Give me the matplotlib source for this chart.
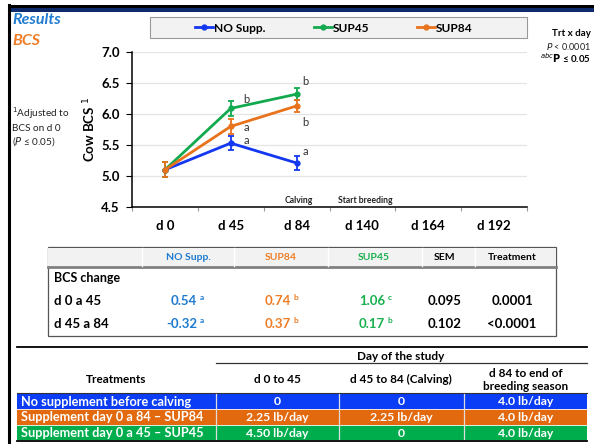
import matplotlib
matplotlib.use("Agg")
import matplotlib.pyplot as plt
from matplotlib.patches import Rectangle
from matplotlib.lines import Line2D

plt.rcParams['font.family'] = ['Lato', 'DejaVu Sans']

# ---------------- data ----------------
days = ["d 0", "d 45", "d 84", "d 140", "d 164", "d 192"]
no_supp = [5.10, 5.53, 5.21]
no_supp_err = [0.12, 0.11, 0.12]
sup45 = [5.10, 6.09, 6.32]
sup45_err = [0.12, 0.12, 0.10]
sup84 = [5.10, 5.80, 6.13]
sup84_err = [0.12, 0.12, 0.10]
letters_no = ["", "a", "a"]
letters_45 = ["", "b", "b"]
letters_84 = ["", "a", "b"]
yticks = [4.5, 5.0, 5.5, 6.0, 6.5, 7.0]

tbl1_cols = ["NO Supp.", "SUP84", "SUP45", "SEM", "Treatment"]
tbl1_rows = ["d 0 a 45", "d 45 a 84"]
chg_no = ["0.54", "-0.32"]
chg_no_l = ["a", "a"]
chg_84 = ["0.74", "0.37"]
chg_84_l = ["b", "b"]
chg_45 = ["1.06", "0.17"]
chg_45_l = ["c", "b"]
sem = ["0.095", "0.102"]
trt_p = ["0.0001", "<0.0001"]

tbl2_cols = ["d 0 to 45", "d 45 to 84 (Calving)", "d 84 to end of\nbreeding season"]
tbl2_rows = ["No supplement before calving", "Supplement day 0 a 84 \u2013 SUP84",
             "Supplement day 0 a 45 \u2013 SUP45"]
tbl2_vals = [["0", "0", "4.0 lb/day"],
             ["2.25 lb/day", "2.25 lb/day", "4.0 lb/day"],
             ["4.50 lb/day", "0", "4.0 lb/day"]]

C_BLUE = "#1438F2"
C_GREEN = "#13AA4F"
C_ORANGE = "#E8731C"
T_BLUE = "#1F7BD1"
T_ORANGE = "#EE7D26"
T_GREEN = "#19B04E"
ROW_COLORS = ["#0A3DF5", "#E2690E", "#00AD4C"]

W, H = 594, 444
fig = plt.figure(figsize=(W / 100, H / 100), dpi=100)

# overlay axes in pixel coordinates
ov = fig.add_axes([0, 0, 1, 1], zorder=0)
ov.set_xlim(0, W)
ov.set_ylim(H, 0)
ov.axis("off")

# frame
ov.add_patch(Rectangle((8, 5), W - 8, 3, color="black", lw=0))
ov.add_patch(Rectangle((8, 8), W - 8, 4, color="#0E2A6B", lw=0))
ov.plot([8.5, 8.5], [5, H], color="black", lw=2.2)

# ---------------- chart ----------------
ax = fig.add_axes([132 / W, 1 - 207 / H, (527 - 132) / W, (207 - 52) / H], zorder=2)
ax.patch.set_alpha(0)
x3 = list(range(3))
ax.set_xlim(-0.5, 5.5)
ax.set_ylim(4.5, 7.0)
for y in yticks[1:]:
    ax.axhline(y, color="#e4e4e4", lw=0.9, zorder=0)
series = [("NO Supp.", no_supp, no_supp_err, C_BLUE, letters_no),
          ("SUP45", sup45, sup45_err, C_GREEN, letters_45),
          ("SUP84", sup84, sup84_err, C_ORANGE, letters_84)]
handles = []
for name, vals, err, col, lets in series:
    ax.errorbar(x3, vals, yerr=err, color=col, lw=2, marker="o", ms=3.5,
                capsize=2.5, elinewidth=1.3, capthick=1.3, zorder=3)
    handles.append(Line2D([], [], color=col, lw=2, marker="o", ms=3.5))
# letters
offs = {"NO Supp.": [(0, 0), (0.24, 0.035), (0.13, 0.18)],
        "SUP45": [(0, 0), (0.24, 0.15), (0.14, 0.2)],
        "SUP84": [(0, 0), (0.24, -0.01), (0.13, -0.275)]}
for name, vals, err, col, lets in series:
    for i, l in enumerate(lets):
        if l:
            dx, dy = offs[name][i]
            ax.text(i + dx, vals[i] + dy, l, fontsize=8, color="#333333",
                    ha="center", va="center")
ax.text(2.03, 4.53, "Calving", fontsize=6.2, fontweight="bold", ha="center",
        va="bottom", color="#222222")
ax.text(3.04, 4.53, "Start breeding", fontsize=6.2, fontweight="bold", ha="center",
        va="bottom", color="#222222")

ax.set_yticks(yticks)
ax.set_yticklabels([f"{v:.1f}" for v in yticks], fontsize=9.5, fontweight="bold")
ax.set_xticks([i + 0.5 for i in range(-1, 6)])
ax.set_xticklabels([])
ax.set_xticks(range(6), minor=True)
ax.set_xticklabels(days, minor=True, fontsize=9.5, fontweight="bold")
ax.tick_params(axis="x", which="minor", length=0, pad=9)
ax.tick_params(axis="x", which="major", length=3, color="#999999")
ax.tick_params(axis="y", length=4, width=0.8, pad=5)
for s in ["top", "right"]:
    ax.spines[s].set_visible(False)
ax.spines["left"].set_linewidth(1.1)
ax.spines["bottom"].set_linewidth(1.1)
ax.set_ylabel("Cow BCS $^1$", fontsize=9.5, fontweight="bold", labelpad=2)

# legend box
ov.add_patch(Rectangle((150, 17), 377, 21, facecolor="#f2f2f2", edgecolor="#999999", lw=0.8))
fig.legend(handles, [s[0] for s in series], loc="center", bbox_to_anchor=(334 / W, 1 - 28 / H),
           ncol=3, frameon=False, prop={"weight": "bold", "size": 8.6},
           handlelength=1.5, handletextpad=0.1, columnspacing=4.0)

# left annotations
ov.text(12, 20, "Results", fontsize=11.5, fontweight="bold", style="italic", color=T_BLUE,
        va="center")
ov.text(12, 41, "BCS", fontsize=11.5, fontweight="bold", style="italic", color=T_ORANGE,
        va="center")
ov.text(12, 113, "$^1$Adjusted to", fontsize=7.2, va="center", color="#222222")
ov.text(12, 128, "BCS on d 0", fontsize=7.2, va="center", color="#222222")
ov.text(12, 142, "($P$ \u2264 0.05)", fontsize=7.2, va="center", color="#222222")

# right annotations
ov.text(591, 34, "Trt x day", fontsize=7, fontweight="bold", ha="right", va="center")
ov.text(591, 46, "$P$ < 0.0001", fontsize=6.5, ha="right", va="center", color="#222222")
ov.text(591, 58, "$^{abc}$$\\mathbf{P}$ \u2264 0.05", fontsize=7, fontweight="bold",
        ha="right", va="center")

# ---------------- table 1 ----------------
tx0, tx1 = 48, 556
ov.add_patch(Rectangle((tx0, 247), tx1 - tx0, 89, facecolor="white", edgecolor="#555555", lw=0.9))
ov.add_patch(Rectangle((tx0, 247.5), tx1 - tx0, 19.5, facecolor="#f2f2f2", edgecolor="none"))
ov.plot([tx0, tx1], [267, 267], color="#808080", lw=2)
col_x = [188, 281, 374, 445, 512]
for sx in [142, 234, 328, 422, 475]:
    ov.plot([sx, sx], [248, 266], color="white", lw=1)
hdr_colors = [T_BLUE, T_ORANGE, T_GREEN, "black", "black"]
for cx, t, c in zip(col_x, tbl1_cols, hdr_colors):
    ov.text(cx, 257, t, fontsize=7.5, fontweight="bold", color=c, ha="center", va="center")
ov.text(54, 278, "BCS change", fontsize=9, fontweight="bold", va="center")
row_y = [301, 324]
val_right = [197, 291, 385]
for i, ry in enumerate(row_y):
    ov.text(54, ry, tbl1_rows[i], fontsize=9.5, fontweight="bold", va="center")
    for rx, v, l, c in [(val_right[0], chg_no[i], chg_no_l[i], T_BLUE),
                        (val_right[1], chg_84[i], chg_84_l[i], T_ORANGE),
                        (val_right[2], chg_45[i], chg_45_l[i], T_GREEN)]:
        ov.text(rx, ry, v, fontsize=9.5, fontweight="bold", color=c, ha="right", va="center")
        ov.text(rx + 3, ry - 4, l, fontsize=6, fontweight="bold", color=c, ha="left", va="center")
    ov.text(445, ry, sem[i], fontsize=9.5, fontweight="bold", ha="center", va="center")
    ov.text(512, ry, trt_p[i], fontsize=9.5, fontweight="bold", ha="center", va="center")

# ---------------- table 2 ----------------
ov.plot([17, 587], [347, 347], color="black", lw=1.3)
ov.text(401, 356, "Day of the study", fontsize=8.5, fontweight="bold", ha="center", va="center")
ov.plot([216, 587], [363, 363], color="#333333", lw=0.9)
ov.text(116, 379, "Treatments", fontsize=8.5, fontweight="bold", ha="center", va="center")
t2x = [277, 401, 526]
ov.text(t2x[0], 379, tbl2_cols[0], fontsize=8.5, fontweight="bold", ha="center", va="center")
ov.text(t2x[1], 379, tbl2_cols[1], fontsize=8.5, fontweight="bold", ha="center", va="center")
ov.text(t2x[2], 380, tbl2_cols[2], fontsize=8.5, fontweight="bold", ha="center", va="center",
        linespacing=1.25)
ov.plot([17, 587], [393, 393], color="#333333", lw=0.8)
ry0 = 393.5
rh = 15.6
for i, (name, vals) in enumerate(zip(tbl2_rows, tbl2_vals)):
    y0 = ry0 + i * rh
    ov.add_patch(Rectangle((17, y0), 570, rh, facecolor=ROW_COLORS[i], edgecolor="none"))
    if i > 0:
        ov.plot([17, 587], [y0, y0], color="white", lw=0.6)
for sx in [216, 339, 464]:
    ov.plot([sx, sx], [393.5, ry0 + 3 * rh], color="#dddddd", lw=0.9)
for i, (name, vals) in enumerate(zip(tbl2_rows, tbl2_vals)):
    y0 = ry0 + i * rh
    ov.text(21, y0 + rh / 2 + 0.5, name, fontsize=9.2, fontweight="bold", color="white",
            va="center", zorder=5)
    for cx, v in zip(t2x, vals):
        ov.text(cx, y0 + rh / 2 + 0.5, v, fontsize=8.8, fontweight="bold", color="white",
                ha="center", va="center", zorder=5)
ov.plot([17, 587], [ry0 + 3 * rh + 0.5, ry0 + 3 * rh + 0.5], color="black", lw=1.3)

fig.savefig("out.png", dpi=100)
